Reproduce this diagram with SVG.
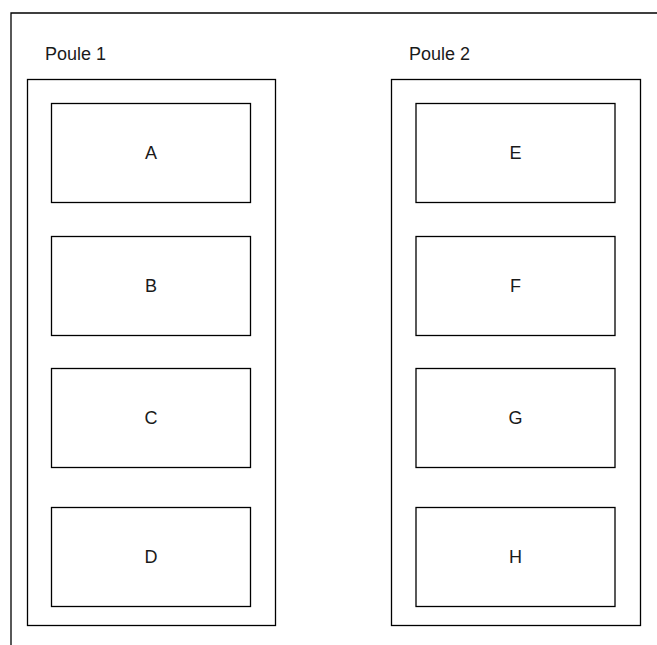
<svg xmlns="http://www.w3.org/2000/svg" width="657" height="645" viewBox="0 0 657 645">
<style>
.b{fill:#fff;stroke:#000;stroke-width:1.3}
.t{font-family:"Liberation Sans",Arial,sans-serif;font-size:18px;fill:#1a1a1a}
.c{text-anchor:middle;dominant-baseline:central}
</style>
<rect width="657" height="645" fill="#fff"/>
<g id="frame"><path d="M11 645V13H657" fill="none" stroke="#000" stroke-width="1.3"/></g>
<g id="pool1">
<text class="t" x="45" y="60">Poule 1</text>
<rect class="b" x="27.5" y="79.5" width="248" height="546"/>
</g>
<g id="pool2">
<text class="t" x="409" y="60">Poule 2</text>
<rect class="b" x="391.5" y="79.5" width="249" height="546"/>
</g>
<g id="A"><rect class="b" x="51.5" y="103.5" width="199" height="99"/><text class="t c" x="151" y="153">A</text></g>
<g id="B"><rect class="b" x="51.5" y="236.5" width="199" height="99"/><text class="t c" x="151" y="286">B</text></g>
<g id="C"><rect class="b" x="51.5" y="368.5" width="199" height="99"/><text class="t c" x="151" y="418">C</text></g>
<g id="D"><rect class="b" x="51.5" y="507.5" width="199" height="99"/><text class="t c" x="151" y="557">D</text></g>
<g id="E"><rect class="b" x="416" y="103.5" width="199" height="99"/><text class="t c" x="515.5" y="153">E</text></g>
<g id="F"><rect class="b" x="416" y="236.5" width="199" height="99"/><text class="t c" x="515.5" y="286">F</text></g>
<g id="G"><rect class="b" x="416" y="368.5" width="199" height="99"/><text class="t c" x="515.5" y="418">G</text></g>
<g id="H"><rect class="b" x="416" y="507.5" width="199" height="99"/><text class="t c" x="515.5" y="557">H</text></g>
<g id="connectors"/>
</svg>
